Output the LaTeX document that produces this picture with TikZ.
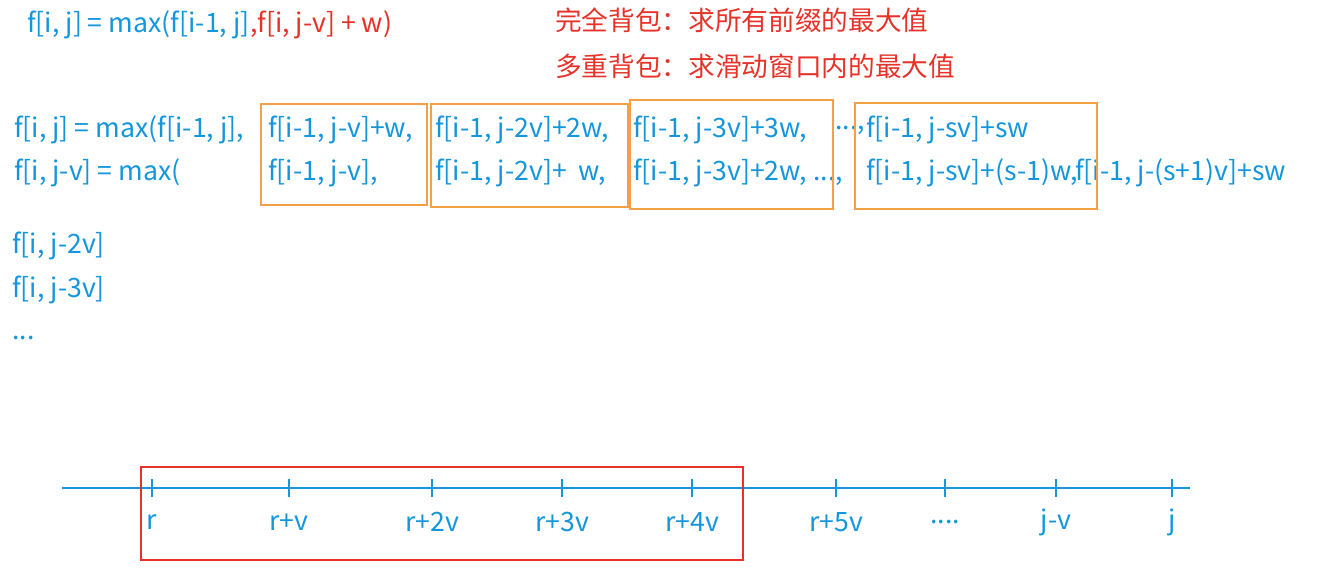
\documentclass[tikz,border=0pt]{standalone}
\usepackage{fontspec}
\setmainfont{Noto Sans CJK SC}
\definecolor{bl}{RGB}{20,150,220}
\definecolor{rd}{RGB}{230,50,40}
\definecolor{og}{RGB}{245,160,70}
\tikzset{t/.style={anchor=west,inner sep=0pt,text=bl,font=\fontsize{20}{24}\selectfont},
 rt/.style={t,text=rd},
 ob/.style={draw=og,line width=1.5pt},
 tk/.style={draw=bl,line width=1.5pt},
 lb/.style={t,anchor=center}}
\begin{document}
\begin{tikzpicture}[x=0.75pt,y=-0.75pt]
\useasboundingbox (0,0) rectangle (1336,587);
\node[t] (a1) at (27,25) {f[i, j] = max(f[i-1, j]};
\node[rt] (a2) at (a1.east) {,f[i, j-v] + w)};
\node[rt] (c1) at (555,20) {完全背包：求所有前缀的最大值};
\node[rt] (c2) at (555,66) {多重背包：求滑动窗口内的最大值};
\node[t] (b1) at (14,130) {f[i, j] = max(f[i-1, j],};
\node[t] (b2) at (268,130) {f[i-1, j-v]+w,};
\node[t] (b3) at (435,130) {f[i-1, j-2v]+2w,};
\node[t] (b4) at (633,130) {f[i-1, j-3v]+3w,};
\node[t] (b5) at (835,130) {...,};
\node[t] (b6) at (866,130) {f[i-1, j-sv]+sw};
\node[t] (d1) at (14,173) {f[i, j-v] = max(};
\node[t] (d2) at (268,173) {f[i-1, j-v],};
\node[t] (d3) at (435,173) {f[i-1, j-2v]+\ \ w,};
\node[t] (d4) at (633,173) {f[i-1, j-3v]+2w, ...,};
\node[t] (d6) at (866,173) {f[i-1, j-sv]+(s-1)w,};
\node[t] (d7) at (1075,173) {f[i-1, j-(s+1)v]+sw};
\draw[ob] (261,104) rectangle (427,205);
\draw[ob] (431,104) rectangle (628,207);
\draw[ob] (630,100) rectangle (833,209);
\draw[ob] (855,103) rectangle (1097,209);
\node[t] (e1) at (12,246) {f[i, j-2v]};
\node[t] (e2) at (12,290) {f[i, j-3v]};
\node[t] (e3) at (12,338) {...};
\coordinate (L) at (62,488); \coordinate (R) at (1190,488);
\draw[tk] (L) -- (R);
\foreach \x/\l [count=\i] in {152/r,289/r+v,432/r+2v,562/r+3v,692/r+4v,836/r+5v,945/{....},1056/j-v,1172/j}{
 \draw[tk] (\x,479) -- (\x,497);
 \node[lb] (k\i) at (\x,522) {\l};
}
\draw[draw=rd,line width=1.5pt] (141,467) rectangle (743,560);
\end{tikzpicture}
\end{document}
